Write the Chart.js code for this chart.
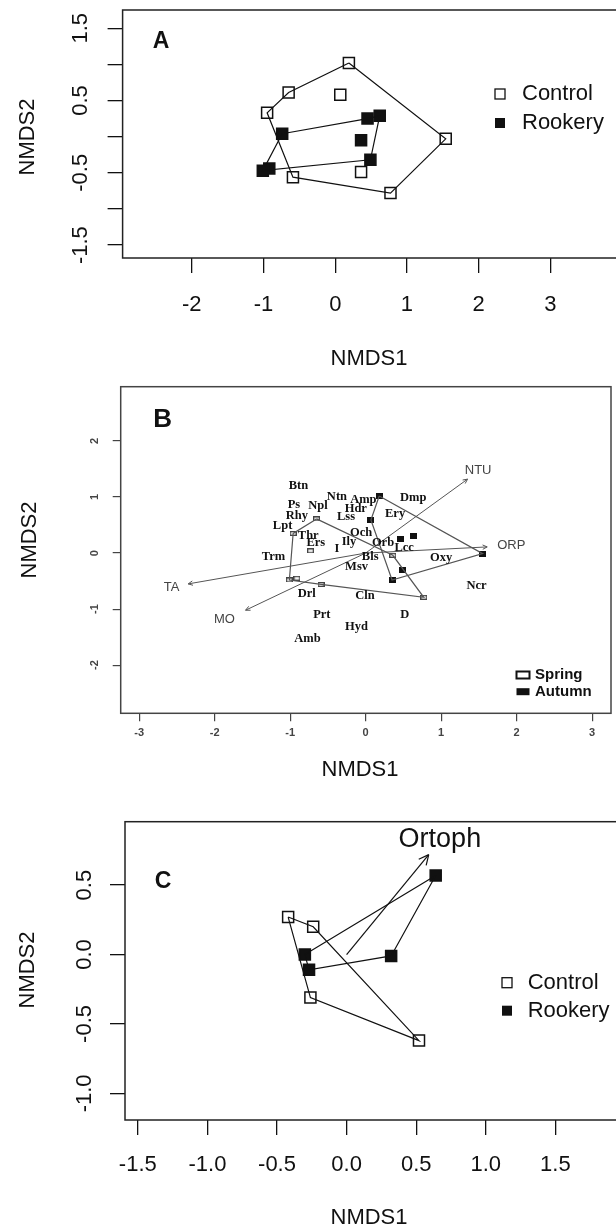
<!DOCTYPE html>
<html>
<head>
<meta charset="utf-8">
<script src="https://cdn.jsdelivr.net/npm/chart.js@4.4.0/dist/chart.umd.min.js"></script>
<style>
  html, body { margin: 0; padding: 0; background: #fff; overflow: hidden; width: 616px; height: 1231px; }
  canvas { position: absolute; left: 0; }
</style>
</head>
<body>
<canvas id="panelA" width="640" height="375" style="top:0px"></canvas>
<canvas id="panelB" width="616" height="425" style="top:375px"></canvas>
<canvas id="panelC" width="640" height="431" style="top:800px"></canvas>
<script>
// ---- panel A : NMDS of sites, Control vs Rookery ----
const aGroups = ['Control', 'Rookery'];
const aXTicks = [-2, -1, 0, 1, 2, 3];
const aXLabels = ['-2', '-1', '0', '1', '2', '3'];
const aYTicks = [-1.5, -1, -0.5, 0, 0.5, 1, 1.5];
const aYLabels = ['-1.5', '', '-0.5', '', '0.5', '', '1.5'];
const aCtrlX = [0.19, -0.65, 0.07, -0.95, 1.54, -0.59, 0.36, 0.77];
const aCtrlY = [1.02, 0.61, 0.58, 0.33, -0.03, -0.56, -0.49, -0.78];
const aCtrlHull = [0, 4, 7, 5, 3, 1, 0];
const aRookX = [0.62, 0.45, -0.74, 0.36, 0.49, -0.92, -1.01];
const aRookY = [0.29, 0.25, 0.04, -0.05, -0.32, -0.44, -0.47];
const aRookHull = [2, 1, 0, 4, 6, 2];

// ---- panel B : Spring vs Autumn, species and env vectors ----
const bGroups = ['Spring', 'Autumn'];
const bXTicks = [-3, -2, -1, 0, 1, 2, 3];
const bXLabels = ['-3', '-2', '-1', '0', '1', '2', '3'];
const bYTicks = [-2, -1, 0, 1, 2];
const bYLabels = ['-2', '-1', '0', '1', '2'];
const bSpringX = [-0.65, -0.96, -0.73, -1.01, -0.91, -0.59, 0.36, 0.77];
const bSpringY = [0.61, 0.35, 0.04, -0.48, -0.45, -0.56, -0.04, -0.79];
const bSpringHull = [0, 1, 3, 5, 7, 6, 0];
const bAutumnX = [0.18, 0.07, 0.46, 0.63, 1.55, 0.49, 0.35];
const bAutumnY = [1.02, 0.59, 0.25, 0.31, -0.01, -0.31, -0.48];
const bAutumnHull = [0, 4, 6, 1, 0];
const bSpecies = ['Btn', 'Ntn', 'Amp', 'Dmp', 'Ps', 'Npl', 'Hdr', 'Ery', 'Rhy', 'Lss',
  'Lpt', 'Thr', 'Och', 'Ers', 'Ily', 'Orb', 'I', 'Lcc', 'Trm', 'Bls',
  'Oxy', 'Msv', 'Ncr', 'Drl', 'Cln', 'D', 'Prt', 'Hyd', 'Amb'];
const bSpeciesX = [-0.89, -0.38, -0.03, 0.63, -0.95, -0.63, -0.13, 0.39, -0.91, -0.26,
  -1.10, -0.76, -0.06, -0.66, -0.22, 0.23, -0.38, 0.51, -1.22, 0.06,
  1.00, -0.12, 1.47, -0.78, -0.01, 0.52, -0.58, -0.12, -0.77];
const bSpeciesY = [1.20, 1.01, 0.96, 0.98, 0.87, 0.85, 0.79, 0.71, 0.66, 0.65,
  0.48, 0.31, 0.36, 0.19, 0.20, 0.19, 0.08, 0.10, -0.07, -0.07,
  -0.08, -0.24, -0.58, -0.72, -0.77, -1.10, -1.11, -1.32, -1.53];
const bEnv = ['TA', 'MO', 'NTU', 'ORP'];
const bEnvX = [-2.35, -1.59, 1.35, 1.61];
const bEnvY = [-0.55, -1.02, 1.32, 0.11];
const bEnvLabX = [-2.57, -1.87, 1.49, 1.93];
const bEnvLabY = [-0.62, -1.18, 1.48, 0.13];

// ---- panel C : Control vs Rookery with Ortoph vector ----
const cGroups = ['Control', 'Rookery'];
const cXTicks = [-1.5, -1, -0.5, 0, 0.5, 1, 1.5];
const cXLabels = ['-1.5', '-1.0', '-0.5', '0.0', '0.5', '1.0', '1.5'];
const cYTicks = [-1, -0.5, 0, 0.5];
const cYLabels = ['-1.0', '-0.5', '0.0', '0.5'];
const cCtrlX = [-0.42, -0.24, -0.26, 0.52];
const cCtrlY = [0.27, 0.20, -0.31, -0.62];
const cCtrlHull = [0, 1, 3, 2, 0];
const cRookX = [0.64, -0.30, 0.32, -0.27];
const cRookY = [0.57, 0.00, -0.01, -0.11];
const cRookHull = [0, 2, 3, 1, 0];
const cEnv = ['Ortoph'];
const cEnvX = [0.59];
const cEnvY = [0.72];
const cEnvLabX = [0.67];
const cEnvLabY = [0.83];

const SANS = '"Liberation Sans", Arial, sans-serif';
const SERIF = '"Liberation Serif", "Times New Roman", serif';

function pairs(xs, ys, order) {
    const idx = order || xs.map(function (_, i) { return i; });
    return idx.map(function (i) { return { x: xs[i], y: ys[i] }; });
}

function hull(xs, ys, order, color, width) {
    return { data: pairs(xs, ys, order), showLine: true, pointRadius: 0, borderColor: color, borderWidth: width, tension: 0 };
}

function marks(xs, ys, style, radius, fill, color, width) {
    return {
        data: pairs(xs, ys), showLine: false, pointStyle: style, pointRadius: radius, pointHoverRadius: radius,
        pointBackgroundColor: fill, pointBorderColor: color, pointBorderWidth: width
    };
}

function arrow(x, y, color, width, head) {
    return { data: [{ x: 0, y: 0 }, { x: x, y: y }], showLine: true, pointRadius: 0, borderColor: color, borderWidth: width, head: head };
}

// small rectangle used as point style in panel B
function rectIcon(w, h, filled, color) {
    const c = document.createElement('canvas');
    c.width = w; c.height = h;
    const g = c.getContext('2d');
    if (filled) {
        g.fillStyle = color;
        g.fillRect(0, 0, w, h);
    } else {
        g.strokeStyle = color;
        g.lineWidth = 1.3;
        g.strokeRect(0.65, 0.65, w - 1.3, h - 1.3);
    }
    return c;
}

function axis(min, max, ticks, labels, o) {
    return {
        type: 'linear', min: min, max: max,
        afterBuildTicks: function (s) { s.ticks = ticks.map(function (v) { return { value: v }; }); },
        afterFit: function (s) {
            if (s.isHorizontal()) s.height = o.size; else s.width = o.size;
            s.paddingTop = 0; s.paddingBottom = 0; s.paddingLeft = 0; s.paddingRight = 0;
        },
        border: { display: false },
        grid: { drawOnChartArea: false, drawTicks: true, tickLength: o.tl, color: o.color, lineWidth: o.lw },
        ticks: {
            autoSkip: false, padding: o.pad, color: o.color, font: o.font,
            minRotation: o.rot, maxRotation: o.rot, crossAlign: o.rot ? 'center' : 'near',
            callback: function (v, i) { return labels[i]; }
        }
    };
}

function text(ctx, s, x, y, font, color, align, rot) {
    ctx.save();
    ctx.translate(x, y);
    if (rot) ctx.rotate(rot);
    ctx.font = font;
    ctx.fillStyle = color;
    ctx.textAlign = align || 'center';
    ctx.textBaseline = 'middle';
    ctx.fillText(s, 0, 0);
    ctx.restore();
}

function drawHeads(chart) {
    const ctx = chart.ctx;
    chart.data.datasets.forEach(function (ds, i) {
        if (!ds.head) return;
        const el = chart.getDatasetMeta(i).data;
        const a = el[0], b = el[1];
        const ang = Math.atan2(b.y - a.y, b.x - a.x);
        ctx.save();
        ctx.strokeStyle = ds.borderColor;
        ctx.lineWidth = ds.borderWidth;
        ctx.beginPath();
        [-1, 1].forEach(function (s) {
            ctx.moveTo(b.x, b.y);
            ctx.lineTo(b.x - ds.head * Math.cos(ang + s * 0.45), b.y - ds.head * Math.sin(ang + s * 0.45));
        });
        ctx.stroke();
        ctx.restore();
    });
}

function decorate(chart, g) {
    const ctx = chart.ctx, ca = chart.chartArea;
    ctx.save();
    ctx.strokeStyle = g.boxColor;
    ctx.lineWidth = 1.5;
    ctx.strokeRect(ca.left, ca.top, ca.right - ca.left, ca.bottom - ca.top);
    ctx.restore();
    text(ctx, g.letter, g.letterX, g.letterY, 'bold ' + g.letterSize + 'px ' + SANS, '#111');
    text(ctx, 'NMDS1', g.xTitleX, g.xTitleY, '22px ' + SANS, '#111');
    text(ctx, 'NMDS2', g.yTitleX, g.yTitleY, '22px ' + SANS, '#111', 'center', -Math.PI / 2);
    g.legend.forEach(function (name, i) {
        const y = g.legY + i * g.legGap;
        ctx.save();
        if (i === 1) {
            ctx.fillStyle = '#111';
            ctx.fillRect(g.legX - g.legW / 2, y - g.legH / 2, g.legW, g.legH);
        } else {
            ctx.strokeStyle = '#111';
            ctx.lineWidth = g.legLw;
            ctx.strokeRect(g.legX - g.legW / 2, y - g.legH / 2, g.legW, g.legH);
        }
        ctx.restore();
        text(ctx, name, g.legTextX, y, g.legFont, '#111', 'left');
    });
    if (g.extra) g.extra(chart);
}

function makeChart(id, g, datasets, xAxis, yAxis) {
    const ctx = document.getElementById(id).getContext('2d');
    return new Chart(ctx, {
        type: 'scatter',
        data: { datasets: datasets },
        options: {
            responsive: false,
            animation: false,
            events: [],
            layout: { padding: { top: g.top, right: g.w - g.right, left: 0, bottom: 0 } },
            plugins: { legend: { display: false }, tooltip: { enabled: false } },
            scales: { x: xAxis, y: yAxis }
        },
        plugins: [{
            id: 'deco',
            afterDatasetsDraw: function (c) { drawHeads(c); },
            afterDraw: function (c) { decorate(c, g); }
        }]
    });
}

document.addEventListener('DOMContentLoaded', function () {
    const bigTick = { size: 22, family: SANS };

    // panel A
    try {
        const g = {
            w: 640, h: 375, top: 10, right: 620, bottom: 258, left: 122.6, boxColor: '#222',
            letter: 'A', letterX: 161, letterY: 42, letterSize: 23,
            xTitleX: 369, xTitleY: 359, yTitleX: 27.5, yTitleY: 137,
            legend: aGroups, legX: 500, legY: 94, legGap: 29, legW: 10, legH: 10, legLw: 1.3,
            legTextX: 522, legFont: '22px ' + SANS
        };
        makeChart('panelA', g, [
            hull(aCtrlX, aCtrlY, aCtrlHull, '#111', 1.2),
            hull(aRookX, aRookY, aRookHull, '#111', 1.2),
            marks(aCtrlX, aCtrlY, 'rect', 7.8, 'rgba(0,0,0,0)', '#111', 1.5),
            marks(aRookX, aRookY, 'rect', 7.8, '#111', '#111', 1.5)
        ],
            axis(-2.965, 3.97, aXTicks, aXLabels, { size: g.h - g.bottom, tl: 15, pad: 18.5, color: '#111', lw: 1.3, font: bigTick, rot: 0 }),
            axis(-1.678, 1.752, aYTicks, aYLabels, { size: g.left, tl: 15, pad: 8, color: '#111', lw: 1.3, font: bigTick, rot: 90 }));
    } catch (error) {
        console.error('panel A failed:', error);
    }

    // panel B
    try {
        const g = {
            w: 616, h: 425, top: 11.7, right: 612.3, bottom: 338.3, left: 120.7, boxColor: '#444',
            letter: 'B', letterX: 162.7, letterY: 45, letterSize: 26,
            xTitleX: 360, xTitleY: 395, yTitleX: 30, yTitleY: 165,
            legend: bGroups, legX: 523, legY: 300, legGap: 16.7, legW: 13, legH: 7, legLw: 2,
            legTextX: 535, legFont: 'bold 15px ' + SANS,
            extra: function (chart) {
                const sx = chart.scales.x, sy = chart.scales.y, ctx = chart.ctx;
                bSpecies.forEach(function (s, i) {
                    text(ctx, s, sx.getPixelForValue(bSpeciesX[i]), sy.getPixelForValue(bSpeciesY[i]), 'bold 12.5px ' + SERIF, '#111');
                });
                bEnv.forEach(function (s, i) {
                    text(ctx, s, sx.getPixelForValue(bEnvLabX[i]), sy.getPixelForValue(bEnvLabY[i]), '13px ' + SANS, '#444');
                });
            }
        };
        const smallTick = { size: 11, family: SANS, weight: 'bold' };
        const sets = [
            hull(bSpringX, bSpringY, bSpringHull, '#555', 1.2),
            hull(bAutumnX, bAutumnY, bAutumnHull, '#555', 1.2)
        ];
        bEnv.forEach(function (s, i) { sets.push(arrow(bEnvX[i], bEnvY[i], '#555', 1, 5)); });
        sets.push(marks(bSpringX, bSpringY, rectIcon(7, 5, false, '#444'), 4, '#fff', '#444', 1));
        sets.push(marks(bAutumnX, bAutumnY, rectIcon(7, 6, true, '#111'), 4, '#111', '#111', 1));
        makeChart('panelB', g, sets,
            axis(-3.244, 3.25, bXTicks, bXLabels, { size: g.h - g.bottom, tl: 8, pad: 5.4, color: '#444', lw: 1.2, font: smallTick, rot: 0 }),
            axis(-2.86, 2.97, bYTicks, bYLabels, { size: g.left, tl: 8, pad: 12.8, color: '#444', lw: 1.2, font: smallTick, rot: 90 }));
    } catch (error) {
        console.error('panel B failed:', error);
    }

    // panel C
    try {
        const g = {
            w: 640, h: 431, top: 21.7, right: 620, bottom: 320, left: 125, boxColor: '#222',
            letter: 'C', letterX: 163, letterY: 81.7, letterSize: 23,
            xTitleX: 369, xTitleY: 418.3, yTitleX: 27.5, yTitleY: 170,
            legend: cGroups, legX: 507, legY: 182.7, legGap: 28, legW: 10, legH: 10, legLw: 1.3,
            legTextX: 527.7, legFont: '22px ' + SANS,
            extra: function (chart) {
                const sx = chart.scales.x, sy = chart.scales.y;
                cEnv.forEach(function (s, i) {
                    text(chart.ctx, s, sx.getPixelForValue(cEnvLabX[i]), sy.getPixelForValue(cEnvLabY[i]), '27px ' + SANS, '#111');
                });
            }
        };
        const sets = [
            hull(cCtrlX, cCtrlY, cCtrlHull, '#111', 1.2),
            hull(cRookX, cRookY, cRookHull, '#111', 1.2)
        ];
        cEnv.forEach(function (s, i) { sets.push(arrow(cEnvX[i], cEnvY[i], '#111', 1.2, 11)); });
        sets.push(marks(cCtrlX, cCtrlY, 'rect', 7.8, 'rgba(0,0,0,0)', '#111', 1.5));
        sets.push(marks(cRookX, cRookY, 'rect', 7.8, '#111', '#111', 1.5));
        makeChart('panelC', g, sets,
            axis(-1.592, 1.964, cXTicks, cXLabels, { size: g.h - g.bottom, tl: 15, pad: 17, color: '#111', lw: 1.3, font: bigTick, rot: 0 }),
            axis(-1.192, 0.957, cYTicks, cYLabels, { size: g.left, tl: 15, pad: 6.5, color: '#111', lw: 1.3, font: bigTick, rot: 90 }));
    } catch (error) {
        console.error('panel C failed:', error);
    }
});
</script>
</body>
</html>
